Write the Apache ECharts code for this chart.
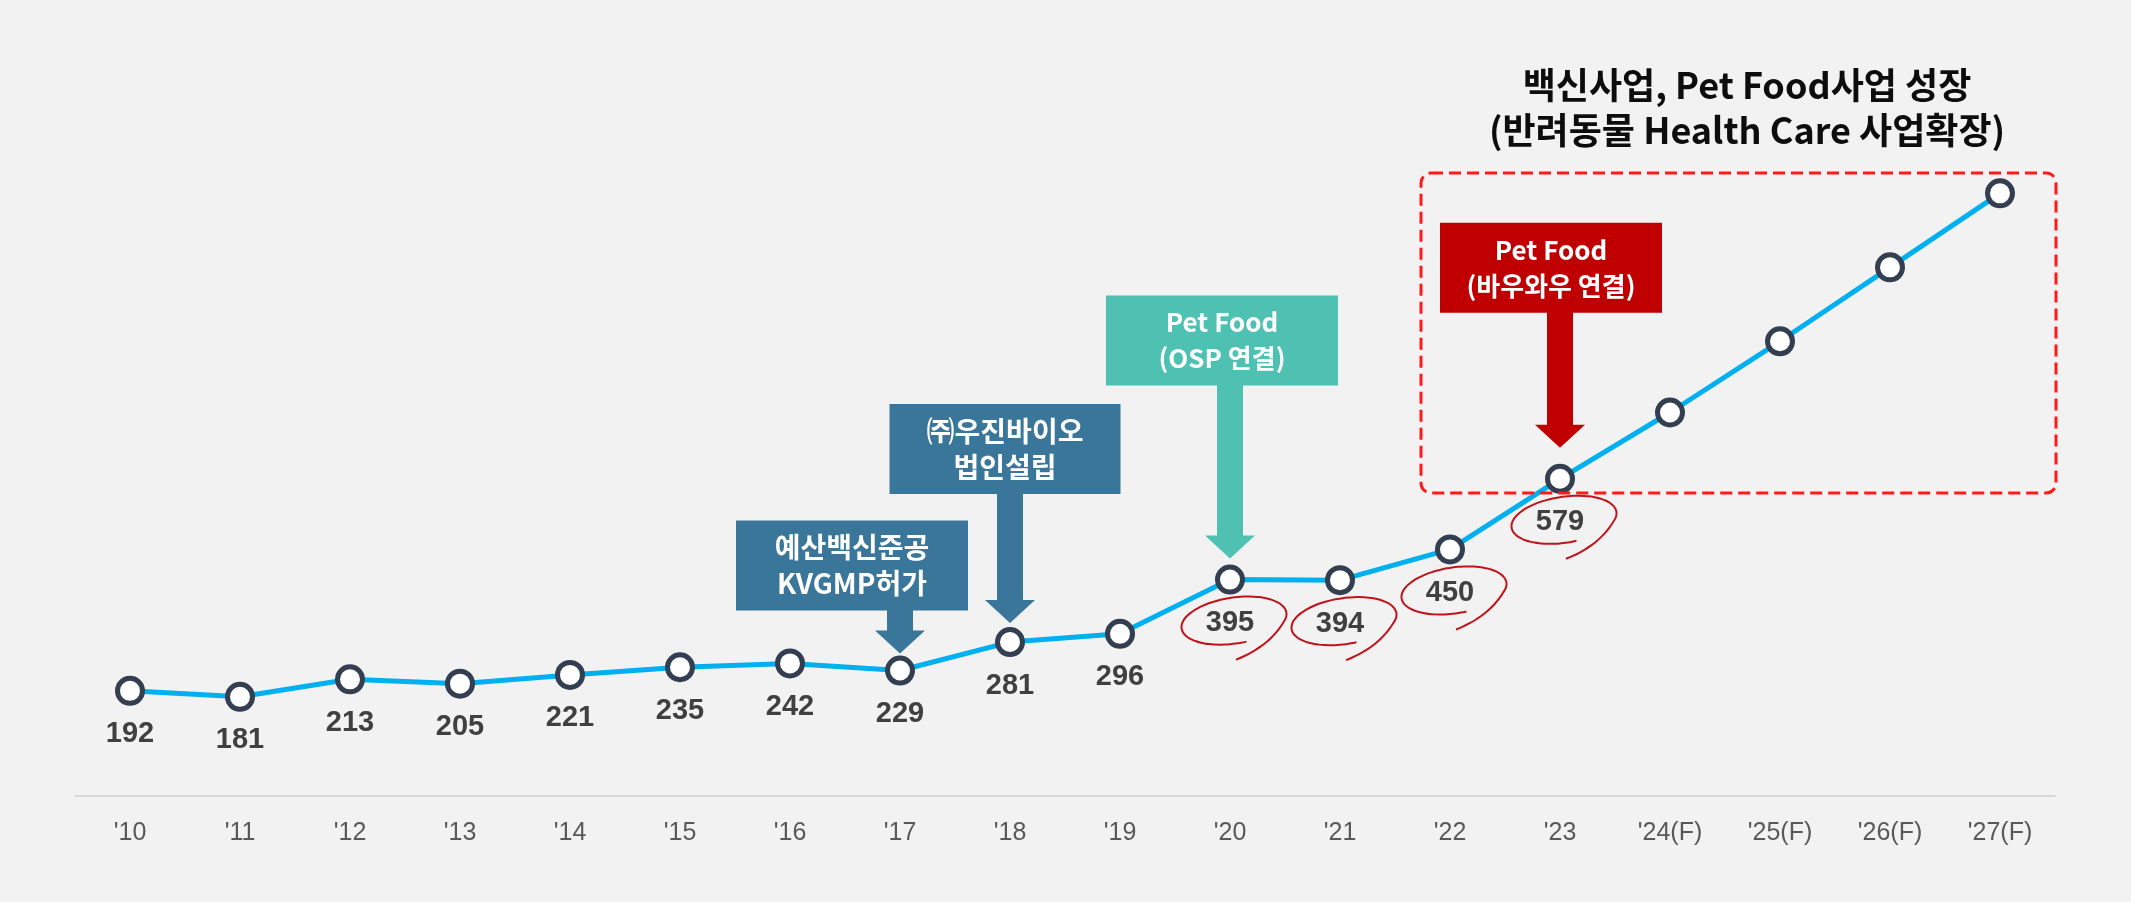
<!DOCTYPE html>
<html>
<head>
<meta charset="utf-8">
<script src="https://cdn.jsdelivr.net/npm/echarts@6/dist/echarts.min.js"></script>
<style>
html, body { margin: 0; padding: 0; background: #f2f2f2; }
#container { width: 2131px; height: 902px; }
</style>
</head>
<body>
<div id="container"></div>
<script>
var dom = document.getElementById("container");
var myChart = echarts.init(dom);

// data
var years = ["'10", "'11", "'12", "'13", "'14", "'15", "'16", "'17", "'18", "'19",
             "'20", "'21", "'22", "'23", "'24(F)", "'25(F)", "'26(F)", "'27(F)"];
var sales = [192, 181, 213, 205, 221, 235, 242, 229, 281, 296,
             395, 394, 450, 579, 700, 830, 965, 1100];
var forecastFrom = 14;           // no value labels from here on
var circled = [10, 11, 12, 13];  // red hand-drawn loops
var noteYears = [7, 8, 10, 13];
var noteTexts = [
    ['예산백신준공', 'KVGMP허가'],
    ['㈜우진바이오', '법인설립'],
    ['Pet Food', '(OSP 연결)'],
    ['Pet Food', '(바우와우 연결)']
];
var titleLines = ['백신사업, Pet Food사업 성장', '(반려동물 Health Care 사업확장)'];

// look of the callout boxes (offsets relative to the point they point at)
var noteStyle = [
    { color: '#3a7699', dx: -48, w: 232, len: 43, gap: 17, size: 28 },
    { color: '#3a7699', dx: -5, w: 231, len: 129, gap: 19, size: 28 },
    { color: '#4fc1b3', dx: -8, w: 232, len: 173, gap: 21, size: 26 },
    { color: '#c00000', dx: -9, w: 222, len: 135, gap: 31, size: 26 }
];

var KR = '"Noto Sans CJK KR", sans-serif';

function renderNote(params, api) {
    var s = noteStyle[params.dataIndex];
    var lines = noteTexts[params.dataIndex];
    var p = api.coord([api.value(0), api.value(1)]);
    var tipY = p[1] - s.gap;
    var headTop = tipY - 23;
    var boxBottom = tipY - s.len;
    var boxTop = boxBottom - 90;
    var cx = p[0] + s.dx;
    var x = p[0];
    return {
        type: 'group',
        children: [{
            type: 'rect',
            shape: { x: cx - s.w / 2, y: boxTop, width: s.w, height: 90 },
            style: { fill: s.color }
        }, {
            type: 'polygon',
            shape: {
                points: [[x - 13, boxBottom - 1], [x + 13, boxBottom - 1], [x + 13, headTop],
                         [x + 25, headTop], [x, tipY], [x - 25, headTop], [x - 13, headTop]]
            },
            style: { fill: s.color }
        }, {
            type: 'text',
            style: {
                text: lines[0], x: cx, y: boxTop + 45 - 18,
                align: 'center', verticalAlign: 'middle',
                font: 'bold ' + s.size + 'px ' + KR, fill: '#ffffff'
            }
        }, {
            type: 'text',
            style: {
                text: lines[1], x: cx, y: boxTop + 45 + 18,
                align: 'center', verticalAlign: 'middle',
                font: 'bold ' + s.size + 'px ' + KR, fill: '#ffffff'
            }
        }]
    };
}

function renderLoop(params, api) {
    var p = api.coord([api.value(0), api.value(1)]);
    var cx = p[0] + 4, cy = p[1] + 41;
    var rx = 53, ry = 23, r = -0.15;
    var pts = [];
    for (var a = 80; a <= 378; a += 6) {
        var t = a * Math.PI / 180;
        var ex = rx * Math.cos(t), ey = ry * Math.sin(t);
        pts.push([cx + ex * Math.cos(r) - ey * Math.sin(r), cy + ex * Math.sin(r) + ey * Math.cos(r)]);
    }
    // tail that overshoots the loop
    var p0 = pts[pts.length - 1];
    var c = [cx + rx * 0.7, cy + ry * 1.1];
    var e = [cx + 2, cy + ry + 16];
    for (var k = 1; k <= 10; k++) {
        var u = k / 10;
        pts.push([
            (1 - u) * (1 - u) * p0[0] + 2 * (1 - u) * u * c[0] + u * u * e[0],
            (1 - u) * (1 - u) * p0[1] + 2 * (1 - u) * u * c[1] + u * u * e[1]
        ]);
    }
    return {
        type: 'polyline',
        shape: { points: pts, smooth: 0.3 },
        style: { stroke: '#c0141c', lineWidth: 2, fill: 'none' }
    };
}

var lineData = sales.map(function (v, i) {
    return i < forecastFrom ? v : { value: v, label: { show: false } };
});

var option = {
    backgroundColor: '#f2f2f2',
    animation: false,
    grid: {
        left: 75,
        right: 76,
        top: 29,
        bottom: 106
    },
    xAxis: {
        type: 'category',
        data: years,
        boundaryGap: true,
        axisLine: { lineStyle: { color: '#d9d9d9', width: 2 } },
        axisTick: { show: false },
        axisLabel: {
            margin: 25,
            color: '#595959',
            fontSize: 25,
            fontFamily: '"Liberation Sans", Arial, sans-serif'
        }
    },
    yAxis: {
        type: 'value',
        min: 0,
        max: 1400,
        show: false,
        splitLine: { show: false }
    },
    series: [{
        type: 'custom',
        renderItem: renderLoop,
        data: circled.map(function (i) { return [i, sales[i]]; }),
        encode: { x: 0, y: 1 },
        z: 1,
        silent: true
    }, {
        type: 'line',
        data: lineData,
        z: 3,
        symbol: 'circle',
        symbolSize: 25,
        lineStyle: { color: '#00b0f0', width: 5 },
        itemStyle: { color: '#ffffff', borderColor: '#333f50', borderWidth: 5 },
        label: {
            show: true,
            position: 'bottom',
            distance: 14,
            color: '#404040',
            fontSize: 29,
            fontWeight: 'bold',
            fontFamily: '"Liberation Sans", Arial, sans-serif'
        }
    }, {
        type: 'custom',
        renderItem: renderNote,
        data: noteYears.map(function (i) { return [i, sales[i]]; }),
        encode: { x: 0, y: 1 },
        z: 4,
        silent: true
    }],
    graphic: {
        elements: [{
            type: 'rect',
            x: 1421,
            y: 173,
            shape: { width: 635, height: 320, r: 10 },
            style: { fill: 'none', stroke: '#ff1a1a', lineWidth: 3, lineDash: [12, 6] },
            z: 100
        }, {
            type: 'text',
            x: 1747,
            y: 85,
            style: {
                text: titleLines[0], align: 'center', verticalAlign: 'middle',
                font: 'bold 36px ' + KR, fill: '#0d0d0d'
            },
            z: 100
        }, {
            type: 'text',
            x: 1747,
            y: 130,
            style: {
                text: titleLines[1], align: 'center', verticalAlign: 'middle',
                font: 'bold 36px ' + KR, fill: '#0d0d0d'
            },
            z: 100
        }]
    }
};

myChart.setOption(option);
</script>
</body>
</html>
